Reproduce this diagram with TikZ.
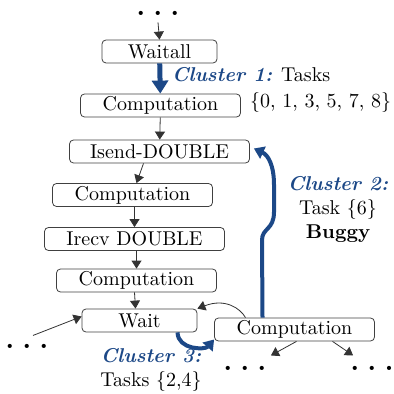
\documentclass[tikz,border=0pt]{standalone}
\usepackage{amsmath}
\usetikzlibrary{arrows.meta}
\definecolor{clblue}{RGB}{28,72,135}

\begin{document}
\begin{tikzpicture}
		[x=0.5pt, y=-0.5pt,
		box/.style = {draw=black!75, rounded corners=2pt, minimum height=11.5pt, inner sep=1pt, align=center},
		wbox/.style = {box, minimum width=57.5pt},
		cbox/.style = {box, minimum width=80pt},
		dbox/.style = {box, minimum width=90pt},
		dots/.style = {inner sep=0pt, font=\Large\bfseries},
		arr/.style = {draw=black!80, -{Triangle[length=4pt, width=5pt]}},
		clarr/.style = {draw=clblue, line width=2pt, -{Triangle[length=5pt, width=6.5pt]}}]
		
		\useasboundingbox (0,0) rectangle (393,394);
		
		% the task's call chain
		\node[wbox] (waitall) at (159.5,51.5) {Waitall};
		\node[cbox] (comp1) at (160.5,105.5) {Computation};
		\node[dbox] (isend) at (159.5,151.5) {Isend-DOUBLE};
		\node[cbox] (comp2) at (132.5,195) {Computation};
		\node[dbox] (irecv) at (134.5,239) {Irecv DOUBLE};
		\node[cbox] (comp3) at (136.5,280.5) {Computation};
		\node[wbox] (wait) at (139.5,320.5) {Wait};
		\node[cbox] (comp4) at (294.5,329.5) {Computation};
		
		\node[dots, anchor=base] (dotsT) at (158,16) {.\hspace{4pt}.\hspace{4pt}.};
		\node[dots, anchor=base] (dotsL) at (27,348) {.\hspace{4pt}.\hspace{4pt}.};
		\node[dots, anchor=base] (dotsB) at (245,370) {.\hspace{4pt}.\hspace{4pt}.};
		\node[dots, anchor=base] (dotsR) at (372,370) {.\hspace{4pt}.\hspace{4pt}.};
		
		% cluster labels
		\node[anchor=west] (cl1) at (165,75) {\textcolor{clblue}{\bfseries\itshape Cluster 1:} Tasks};
		\node[anchor=west] (tasks1) at (243,103) {\{0, 1, 3, 5, 7, 8\}};
		\node[align=center] (cl2) at (338,209) {{\color{clblue}\bfseries\itshape Cluster 2:}\\ Task \{6\}\\ \textbf{Buggy}};
		\node[align=center] (cl3) at (151,370) {{\color{clblue}\bfseries\itshape Cluster 3:}\\ Tasks \{2,4\}};
		
		\draw[arr] ([yshift=-3pt]dotsT.south) -- (waitall.north);
		\draw[clarr, line width=2.5pt, -{Triangle[length=6.5pt, width=8pt]}] (waitall) -- (comp1);
		\draw[arr] (comp1) -- (isend);
		\draw[arr] ([xshift=-8pt]isend.south) -- ([xshift=2pt]comp2.north);
		\draw[arr] ([xshift=1pt]comp2.south) -- (irecv.north);
		\draw[arr] ([xshift=1pt]irecv.south) -- (comp3.north);
		\draw[arr] ([xshift=-1pt]comp3.south) -- ([xshift=-2pt]wait.north);
		\draw[arr] ([shift={(3pt,4pt)}]dotsL.north) -- ([yshift=2pt]wait.west);
		\draw[arr] ([xshift=1pt]comp4.south) -- ([shift={(2pt,5pt)}]dotsB.north east);
		\draw[arr] ([xshift=19pt]comp4.south) -- ([shift={(1.5pt,5pt)}]dotsR.north west);
		\draw[arr] ([xshift=-24.5pt]comp4.north) .. controls (240,308) and (225,298) .. (wait.north east);
		
		\draw[clarr] ([xshift=19pt]wait.south) .. controls (178,350) and (205,350) .. ([yshift=-5pt]comp4.west);
		\draw[clarr] ([xshift=-16pt]comp4.north) -- (262,240) .. controls (262,228) and (274,230) .. (274,212) -- (274,185) .. controls (274,165) and (268,155) .. ([shift={(2pt,1.5pt)}]isend.east);
	\end{tikzpicture}
\end{document}
